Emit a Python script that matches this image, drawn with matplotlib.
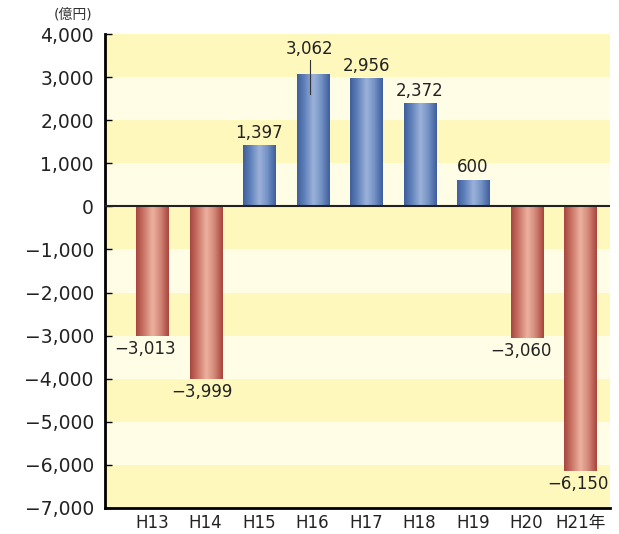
import matplotlib
matplotlib.use('Agg')
import matplotlib.pyplot as plt
import numpy as np
from matplotlib.colors import LinearSegmentedColormap

plt.rcParams['font.family'] = ['DejaVu Sans', 'Noto Sans CJK JP']

years = ['H13', 'H14', 'H15', 'H16', 'H17', 'H18', 'H19', 'H20', 'H21年']
values = [-3013, -3999, 1397, 3062, 2956, 2372, 600, -3060, -6150]
yticks = np.arange(-7000, 4001, 1000)

def fmt(v):
    s = '{:,}'.format(abs(int(v)))
    return '−' + s if v < 0 else s

fig = plt.figure(figsize=(6.19, 5.34), dpi=100)
ax = fig.add_axes([0.1696, 0.0487, 0.816, 0.8876])

# striped background
for i, lo in enumerate(yticks[:-1]):
    c = '#fff8bc' if (len(yticks) - 2 - i) % 2 == 0 else '#fffde6'
    ax.axhspan(lo, lo + 1000, color=c, lw=0, zorder=0)

blue = LinearSegmentedColormap.from_list('b', ['#3e5f9c', '#6585bd', '#9cb3da', '#7391c4', '#3f5f9d'])
red = LinearSegmentedColormap.from_list('r', ['#a8463f', '#cd7a6a', '#eeb2a0', '#d38777', '#a9443d'])
grad = np.linspace(0, 1, 64).reshape(1, -1)

w = 0.6
x = np.arange(len(years))
for xi, v in zip(x, values):
    cmap = blue if v > 0 else red
    ax.imshow(grad, cmap=cmap, aspect='auto', extent=[xi - w/2, xi + w/2, 0, v],
              origin='lower', zorder=2, interpolation='bicubic')

# value labels
neg_dx = {0: -0.13, 1: -0.07, 7: -0.1, 8: -0.04}
for xi, v in zip(x, values):
    if v > 0:
        if xi == 3:
            ax.text(xi - 0.05, v + 380, fmt(v), ha='center', va='bottom', fontsize=12, color='#222222', zorder=4)
            ax.plot([xi - 0.05, xi - 0.05], [v + 330, v - 450], color='#333333', lw=0.8, zorder=4)
        else:
            ax.text(xi, v + 100, fmt(v), ha='center', va='bottom', fontsize=12, color='#222222', zorder=4)
    else:
        ax.text(xi + neg_dx.get(xi, 0), v - 90, fmt(v), ha='center', va='top', fontsize=12, color='#222222', zorder=4)

ax.axhline(0, color='#222222', lw=1.5, zorder=3)

ax.set_xlim(-0.88, 8.56)
ax.set_ylim(-7000, 4000)
ax.set_yticks(yticks)
ax.set_yticklabels([fmt(t) for t in yticks], fontsize=13.5, color='#222222')
ax.set_xticks(x)
ax.set_xticklabels(years, fontsize=12, color='#222222')
ax.tick_params(axis='y', direction='in', length=5, width=1, pad=8)
ax.tick_params(axis='x', length=0, pad=4)
for s in ['top', 'right']:
    ax.spines[s].set_visible(False)
ax.spines['left'].set_linewidth(2)
ax.spines['bottom'].set_linewidth(2)

fig.text(0.118, 0.972, '(億円)', fontsize=10, color='#333333', ha='center', va='center')

fig.savefig('out.png', dpi=100)
